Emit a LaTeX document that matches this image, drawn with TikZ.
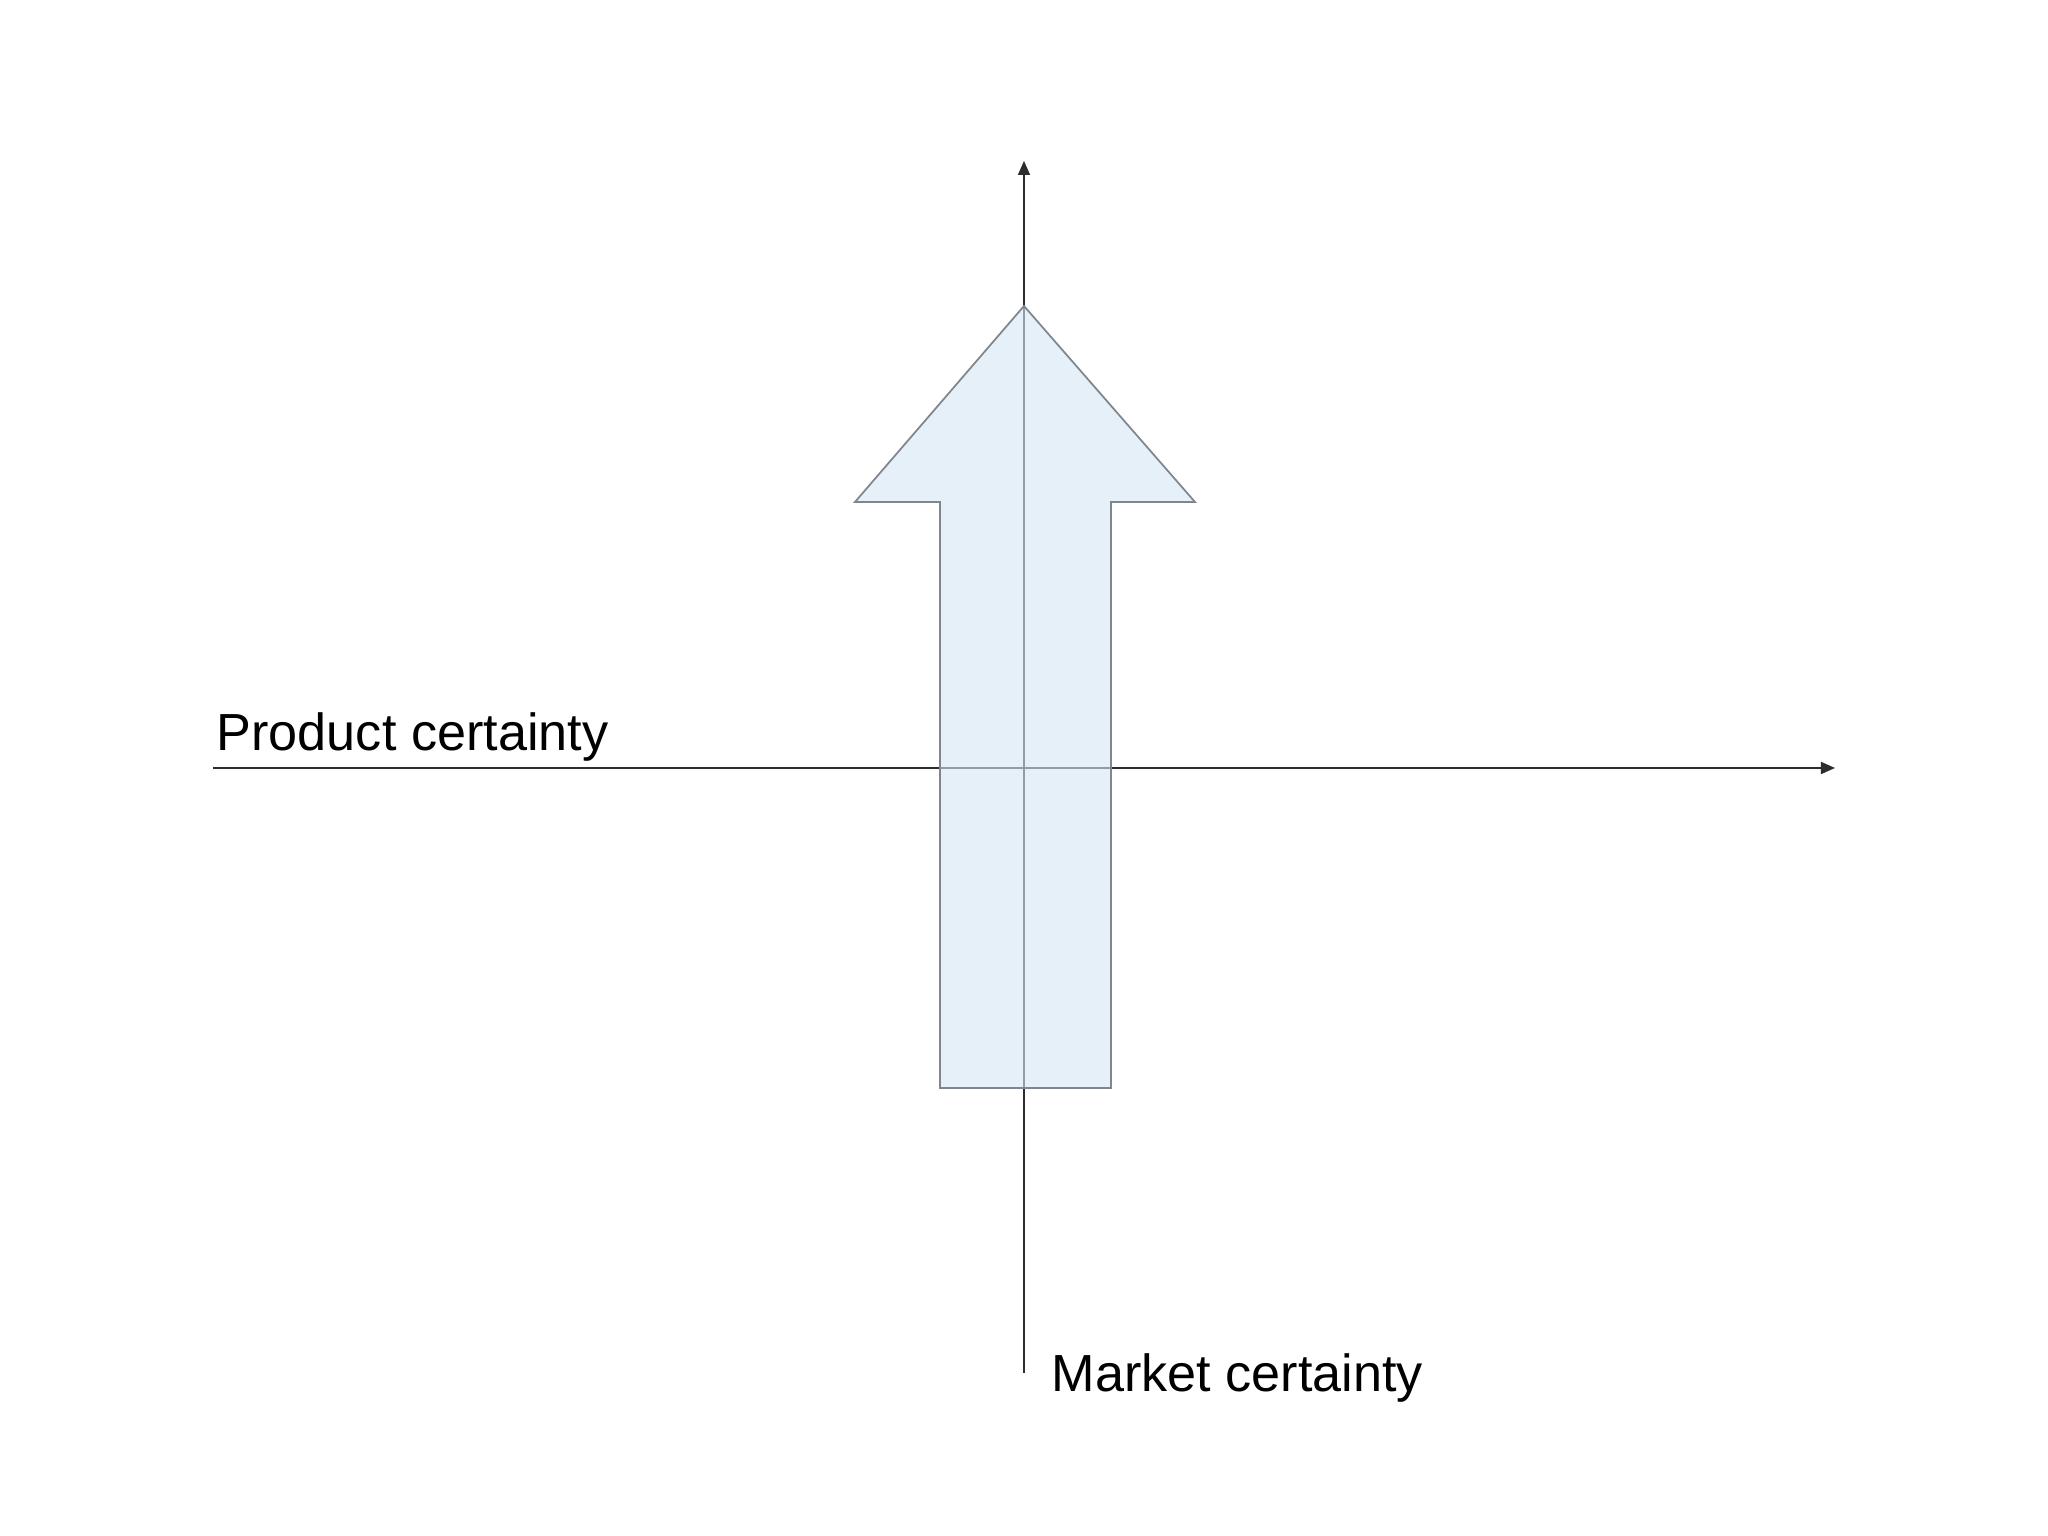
\documentclass[tikz,border=0pt]{standalone}
\usepackage{fontspec}
\setmainfont{Liberation Sans}
\usepackage{tikz}
\usetikzlibrary{arrows.meta,positioning,calc}

\definecolor{arrowfill}{RGB}{213,230,245}
\definecolor{arrowline}{RGB}{128,134,142}
\definecolor{axisline}{RGB}{45,45,45}

\begin{document}
\begin{tikzpicture}[
  axis/.style={-{Triangle[length=0.14cm, width=0.12cm]}, line width=0.45pt, draw=axisline},
  bigarrow/.style={draw=arrowline, line width=0.5pt, fill=arrowfill, fill opacity=0.6},
  label/.style={anchor=base west, inner sep=0pt, font=\fontsize{14.85}{18}\selectfont}
]
  \useasboundingbox (-10.24,-7.68) rectangle (10.24,7.68);
  % axes
  \coordinate (west) at (-8.11,0);
  \coordinate (east) at (8.11,0);
  \coordinate (south) at (0,-6.05);
  \coordinate (north) at (0,6.07);
  \draw[axis] (west) -- (east);
  \draw[axis] (south) -- (north);
  % big arrow
  \draw[bigarrow] (-0.84,-3.20) -- (-0.84,2.66) -- (-1.69,2.66) -- (0,4.62)
    -- (1.71,2.66) -- (0.87,2.66) -- (0.87,-3.20) -- cycle;
  % labels
  \node[label] (product) at ($(west)+(0.03,0.17)$) {Product certainty};
  \node[label] (market) at ($(south)+(0.27,-0.19)$) {Market certainty};
\end{tikzpicture}
\end{document}
